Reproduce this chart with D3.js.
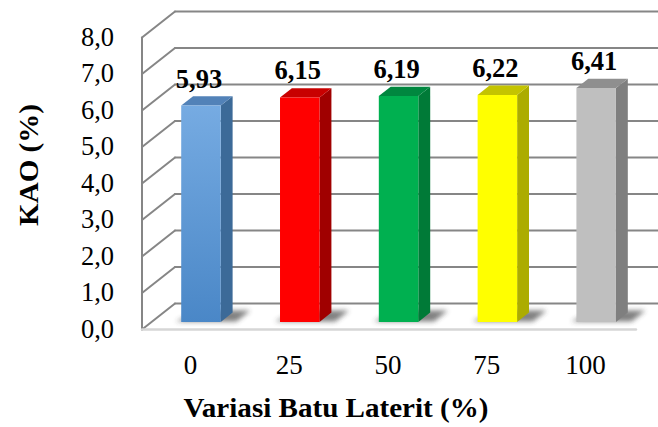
<!DOCTYPE html>
<html>
<head>
<meta charset="utf-8">
<script src="https://cdn.jsdelivr.net/npm/d3@7"></script>
<style>
  html, body { margin: 0; padding: 0; background: #fff; }
  svg { display: block; }
</style>
</head>
<body>
<svg id="chart" width="658" height="427"></svg>
<script>
// KAO per laterite stone variation
const categories = ["0", "25", "50", "75", "100"];
const kaoValues = [5.93, 6.15, 6.19, 6.22, 6.41];
const yTicks = [0, 1, 2, 3, 4, 5, 6, 7, 8];
const xTitle = "Variasi Batu Laterit (%)";
const yTitle = "KAO (%)";

// bar palette: front, side, top faces
const frontTop = ["#76abe2", "#ff0000", "#00b050", "#ffff00", "#bfbfbf"];
const frontBottom = ["#4a87c7", "#ff0000", "#00b050", "#ffff00", "#bfbfbf"];
const sideColors = ["#3c6a98", "#a00000", "#007a37", "#acac00", "#7f7f7f"];
const topColors = ["#5282b8", "#c80000", "#00873f", "#c4c400", "#8f8f8f"];

const FONT = "'Liberation Serif', 'Times New Roman', Tinos, 'DejaVu Serif', serif";

const idLocale = d3.formatLocale({ decimal: ",", thousands: ".", grouping: [3], currency: ["", ""] });
const fmtTick = idLocale.format(".1f");
const fmtValue = idLocale.format(".2f");

const svg = d3.select("#chart");
const defs = svg.append("defs");

// 3D frame geometry
const plotLeft = 142, plotRight = 636;
const depthX = 33, depthY = -26;      // offset from front plane to back wall
const barFront = 0.29, barBack = 0.65; // bar depth span (fraction of floor depth)

const y = d3.scaleLinear().domain([0, 8]).range([329.5, 37.5]);
const xSlot = d3.scaleBand().domain(categories).range([plotLeft, plotRight]);
const xBar = d3.scaleBand().domain(categories).range([plotLeft, plotRight])
  .paddingInner(0.6).paddingOuter(0.3);

// project (x on front plane, value, depth fraction) to screen
const P = (x, v, f) => [x + f * depthX, y(v) + f * depthY];

const gridColor = "#868686";
const grid = svg.append("g").attr("fill", "none").attr("stroke-linecap", "round");

// back wall gridlines
grid.selectAll("line.back").data(yTicks).join("line")
  .attr("class", "back")
  .attr("x1", d => P(plotLeft, d, 1)[0]).attr("y1", d => P(plotLeft, d, 1)[1])
  .attr("x2", d => P(plotRight, d, 1)[0]).attr("y2", d => P(plotRight, d, 1)[1])
  .attr("stroke", gridColor).attr("stroke-width", 2);

// side wall gridlines
grid.selectAll("line.side").data(yTicks).join("line")
  .attr("class", "side")
  .attr("x1", d => P(plotLeft, d, 0)[0]).attr("y1", d => P(plotLeft, d, 0)[1])
  .attr("x2", d => P(plotLeft, d, 1)[0]).attr("y2", d => P(plotLeft, d, 1)[1])
  .attr("stroke", gridColor).attr("stroke-width", 2);

// side wall front edge
grid.append("line")
  .attr("x1", plotLeft).attr("y1", y(8))
  .attr("x2", plotLeft).attr("y2", y(0))
  .attr("stroke", gridColor).attr("stroke-width", 2);

// floor front edge
grid.append("line")
  .attr("x1", plotLeft).attr("y1", y(0))
  .attr("x2", plotRight).attr("y2", y(0))
  .attr("stroke", "#d6d6d6").attr("stroke-width", 2.4);

// soft floor shadows
const blur = defs.append("filter").attr("id", "shadowBlur")
  .attr("x", "-50%").attr("y", "-50%").attr("width", "200%").attr("height", "200%");
blur.append("feGaussianBlur").attr("stdDeviation", 2.6);

svg.append("g").selectAll("polygon").data(categories).join("polygon")
  .attr("points", c => {
    const x0 = xBar(c) - 6, x1 = xBar(c) + xBar.bandwidth() + 15;
    return [P(x0, 0, barFront + 0.02), P(x1, 0, barFront + 0.02),
            P(x1, 0, barBack + 0.08), P(x0 + 10, 0, barBack + 0.08)]
      .map(p => p.join(",")).join(" ");
  })
  .attr("fill", "#333").attr("opacity", 0.62)
  .attr("filter", "url(#shadowBlur)");

// front-face gradients
categories.forEach((c, i) => {
  const g = defs.append("linearGradient").attr("id", "grad" + i)
    .attr("x1", 0).attr("y1", 0).attr("x2", 0).attr("y2", 1);
  g.append("stop").attr("offset", "0%").attr("stop-color", frontTop[i]);
  g.append("stop").attr("offset", "100%").attr("stop-color", frontBottom[i]);
});

const bars = svg.append("g").selectAll("g.bar")
  .data(categories.map((c, i) => ({ c, v: kaoValues[i], i })))
  .join("g").attr("class", "bar");

const poly = pts => pts.map(p => p.join(",")).join(" ");

// side face
bars.append("polygon")
  .attr("points", d => {
    const xr = xBar(d.c) + xBar.bandwidth();
    return poly([P(xr, 0, barFront), P(xr, 0, barBack), P(xr, d.v, barBack), P(xr, d.v, barFront)]);
  })
  .attr("fill", d => sideColors[d.i]);

// top face
bars.append("polygon")
  .attr("points", d => {
    const xl = xBar(d.c), xr = xl + xBar.bandwidth();
    return poly([P(xl, d.v, barFront), P(xr, d.v, barFront), P(xr, d.v, barBack), P(xl, d.v, barBack)]);
  })
  .attr("fill", d => topColors[d.i]);

// front face
bars.append("polygon")
  .attr("points", d => {
    const xl = xBar(d.c), xr = xl + xBar.bandwidth();
    return poly([P(xl, 0, barFront), P(xr, 0, barFront), P(xr, d.v, barFront), P(xl, d.v, barFront)]);
  })
  .attr("fill", d => `url(#grad${d.i})`);

// value labels
bars.append("text")
  .attr("x", d => P(xBar(d.c) + xBar.bandwidth() / 2, d.v, barFront)[0] - 2)
  .attr("y", d => P(0, d.v, barFront)[1] - 18)
  .attr("text-anchor", "middle")
  .attr("font-family", FONT)
  .attr("font-size", 26.5).attr("font-weight", "bold")
  .text(d => fmtValue(d.v));

// y tick labels
svg.append("g").selectAll("text").data(yTicks).join("text")
  .attr("x", 114).attr("y", d => y(d) + 8)
  .attr("text-anchor", "end")
  .attr("font-family", FONT).attr("font-size", 26.5)
  .text(d => fmtTick(d));

// category labels
svg.append("g").selectAll("text").data(categories).join("text")
  .attr("x", c => xSlot(c) + xSlot.bandwidth() / 2 - 1)
  .attr("y", 374)
  .attr("text-anchor", "middle")
  .attr("font-family", FONT).attr("font-size", 27)
  .text(c => c);

// axis titles
svg.append("text")
  .attr("x", 336).attr("y", 417)
  .attr("text-anchor", "middle")
  .attr("font-family", FONT).attr("font-size", 27).attr("font-weight", "bold")
  .attr("textLength", 305).attr("lengthAdjust", "spacingAndGlyphs")
  .text(xTitle);

svg.append("text")
  .attr("transform", "translate(38,165) rotate(-90)")
  .attr("text-anchor", "middle")
  .attr("font-family", FONT).attr("font-size", 27).attr("font-weight", "bold")
  .attr("textLength", 122).attr("lengthAdjust", "spacingAndGlyphs")
  .text(yTitle);
</script>
</body>
</html>
